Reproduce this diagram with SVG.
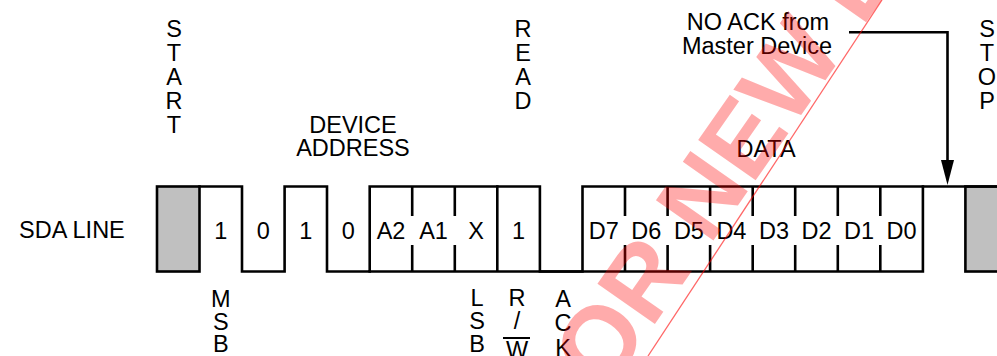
<svg xmlns="http://www.w3.org/2000/svg" width="997" height="356" viewBox="0 0 997 356">
<style>
text{font-family:"Liberation Sans",Arial,sans-serif;font-size:23.5px;fill:#000}
.m{text-anchor:middle}
.sig{fill:none;stroke:#000;stroke-width:2.6;stroke-linejoin:miter;stroke-linecap:square}
.gray{fill:#c0c0c0;stroke:#000;stroke-width:2.6}
.sep{stroke:#000;stroke-width:2.6}
.wm{font-family:"Liberation Sans",Arial,sans-serif;font-weight:bold;font-size:102px;fill:#ff0000;fill-opacity:0.33}
</style>
<rect width="997" height="356" fill="#fff"/>
<g id="label-sda"><text x="19" y="238">SDA LINE</text></g>
<g id="label-start"><text x="174" y="37" class="m">S</text><text x="174" y="61" class="m">T</text><text x="174" y="85" class="m">A</text><text x="174" y="109" class="m">R</text><text x="174" y="133" class="m">T</text></g>
<g id="label-device-address"><text x="353" y="133" class="m">DEVICE</text><text x="353" y="156" class="m">ADDRESS</text></g>
<g id="label-read"><text x="523" y="37" class="m">R</text><text x="523" y="61" class="m">E</text><text x="523" y="85" class="m">A</text><text x="523" y="109" class="m">D</text></g>
<g id="label-noack"><text x="758" y="30" class="m">NO ACK from</text><text x="757" y="54" class="m">Master Device</text></g>
<g id="label-stop"><text x="987" y="37" class="m">S</text><text x="987" y="61" class="m">T</text><text x="987" y="85" class="m">O</text><text x="987" y="109" class="m">P</text></g>
<g id="label-data"><text x="766" y="157" class="m">DATA</text></g>
<g id="start-box"><rect x="157" y="186.5" width="42.5" height="85" class="gray"/></g>
<g id="stop-box"><rect x="965.4" y="186.5" width="40" height="85" class="gray"/></g>
<g id="connectors">
<path class="sig" d="M199.5,186.5 H242 V271.5 H284.6 V186.5 H327 V271.5 H369.7 V186.5 H539.9 V271.5 H582.5 V186.5 H997"/>
<path class="sig" d="M369.7,271.5 H922.9 V186.5 M497.3,186.5 V271.5"/>
<path class="sep" d="M412.2,186.5 V216 M412.2,245 V271.5 M454.8,186.5 V216 M454.8,245 V271.5 M625,186.5 V216 M625,245 V271.5 M667.6,186.5 V216 M667.6,245 V271.5 M710.1,186.5 V216 M710.1,245 V271.5 M752.7,186.5 V216 M752.7,245 V271.5 M795.2,186.5 V216 M795.2,245 V271.5 M837.8,186.5 V216 M837.8,245 V271.5 M880.3,186.5 V216 M880.3,245 V271.5"/>
<path d="M849,32.3 H947.5 V162" fill="none" stroke="#000" stroke-width="2.6"/>
<polygon points="941,160 954,160 947.5,185" fill="#000"/>
</g>
<g id="bits">
<text x="220.8" y="238.5" class="m">1</text>
<text x="263.3" y="238.5" class="m">0</text>
<text x="305.8" y="238.5" class="m">1</text>
<text x="348.4" y="238.5" class="m">0</text>
<text x="391" y="238.5" class="m">A2</text>
<text x="433.5" y="238.5" class="m">A1</text>
<text x="476" y="238.5" class="m">X</text>
<text x="518.6" y="238.5" class="m">1</text>
<text x="603.8" y="238.5" class="m">D7</text>
<text x="646.3" y="238.5" class="m">D6</text>
<text x="688.9" y="238.5" class="m">D5</text>
<text x="731.4" y="238.5" class="m">D4</text>
<text x="774" y="238.5" class="m">D3</text>
<text x="816.5" y="238.5" class="m">D2</text>
<text x="859" y="238.5" class="m">D1</text>
<text x="901.6" y="238.5" class="m">D0</text>
</g>
<g id="label-msb"><text x="220.8" y="307" class="m">M</text><text x="220.8" y="329.5" class="m">S</text><text x="220.8" y="352" class="m">B</text></g>
<g id="label-lsb"><text x="477" y="306" class="m">L</text><text x="477" y="329" class="m">S</text><text x="477" y="352" class="m">B</text></g>
<g id="label-rw"><text x="517" y="306" class="m">R</text><text x="517" y="329" class="m">/</text><text x="517" y="358" class="m">W</text><line x1="503" y1="338" x2="530" y2="338" stroke="#000" stroke-width="2"/></g>
<g id="label-ack"><text x="563" y="307" class="m">A</text><text x="563" y="331" class="m">C</text><text x="563" y="356" class="m">K</text></g>
<g id="watermark">
<text class="wm" x="755" y="181" text-anchor="middle" transform="rotate(-55 755 181)">OR NEW D</text>
<line x1="648" y1="356" x2="882" y2="0" stroke="#ff0000" stroke-opacity="0.6" stroke-width="1.3"/>
</g>
</svg>
